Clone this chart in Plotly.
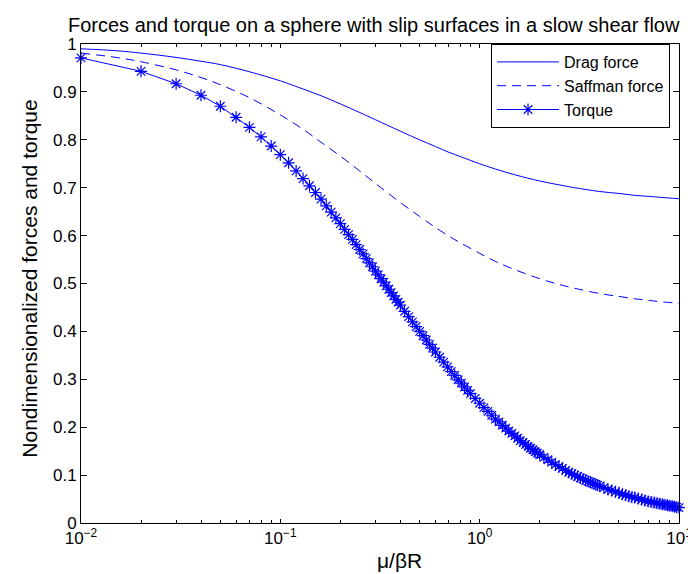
import plotly.graph_objects as go

# ---- data ----
x_line = [0.01, 0.015, 0.02, 0.03, 0.04, 0.05, 0.07, 0.1, 0.13, 0.16, 0.2, 0.25,
          0.3, 0.4, 0.5, 0.6, 0.7, 0.8, 1.0, 1.2, 1.5, 2, 2.5, 3, 4, 5, 6, 7, 8, 10]
drag = [0.990, 0.986, 0.981, 0.972, 0.964, 0.957, 0.942, 0.923, 0.906, 0.892, 0.875, 0.857,
        0.842, 0.818, 0.800, 0.786, 0.774, 0.765, 0.750, 0.739, 0.727, 0.714, 0.706, 0.700,
        0.692, 0.688, 0.684, 0.682, 0.680, 0.677]
saffman = [0.981, 0.972, 0.963, 0.946, 0.930, 0.915, 0.888, 0.852, 0.822, 0.795, 0.766, 0.735,
           0.709, 0.669, 0.640, 0.617, 0.599, 0.585, 0.563, 0.546, 0.529, 0.510, 0.498, 0.490,
           0.479, 0.473, 0.468, 0.465, 0.462, 0.459]

x_torque = [0.01, 0.02, 0.03, 0.04, 0.05, 0.06, 0.07, 0.08, 0.09, 0.10,
            0.11, 0.12, 0.13, 0.14, 0.15, 0.16, 0.17, 0.18, 0.19, 0.20,
            0.21, 0.22, 0.23, 0.24, 0.25, 0.26, 0.27, 0.28, 0.29, 0.30,
            0.31, 0.32, 0.33, 0.34, 0.35, 0.36, 0.37, 0.38, 0.39, 0.40,
            0.42, 0.44, 0.46, 0.48, 0.50, 0.52, 0.54, 0.56, 0.58, 0.60,
            0.63, 0.66, 0.69, 0.72, 0.75, 0.78, 0.81, 0.84, 0.87, 0.90,
            0.95, 1.00, 1.05, 1.10, 1.15, 1.20, 1.25, 1.30, 1.35, 1.40,
            1.45, 1.50, 1.55, 1.60, 1.65, 1.70, 1.75, 1.80, 1.85, 1.90,
            1.95, 2.0, 2.1, 2.2, 2.3, 2.4, 2.5, 2.6, 2.7, 2.8,
            2.9, 3.0, 3.1, 3.2, 3.3, 3.4, 3.5, 3.6, 3.7, 3.8,
            3.9, 4.0, 4.2, 4.4, 4.6, 4.8, 5.0, 5.2, 5.4, 5.6,
            5.8, 6.0, 6.25, 6.5, 6.75, 7.0, 7.25, 7.5, 7.75, 8.0,
            8.25, 8.5, 8.75, 9.0, 9.25, 9.5, 9.75, 10.0]
torque = [0.971, 0.943, 0.917, 0.893, 0.870, 0.847, 0.826, 0.806, 0.787, 0.769,
          0.752, 0.735, 0.719, 0.704, 0.690, 0.676, 0.662, 0.649, 0.637, 0.625,
          0.613, 0.602, 0.592, 0.581, 0.571, 0.562, 0.552, 0.543, 0.535, 0.526,
          0.518, 0.510, 0.503, 0.495, 0.488, 0.481, 0.474, 0.467, 0.461, 0.455,
          0.442, 0.431, 0.420, 0.410, 0.400, 0.391, 0.382, 0.373, 0.365, 0.357,
          0.346, 0.336, 0.326, 0.316, 0.308, 0.299, 0.292, 0.284, 0.277, 0.270,
          0.260, 0.250, 0.241, 0.233, 0.225, 0.217, 0.211, 0.204, 0.198, 0.192,
          0.187, 0.182, 0.177, 0.172, 0.168, 0.164, 0.160, 0.156, 0.153, 0.149,
          0.146, 0.143, 0.137, 0.132, 0.127, 0.122, 0.118, 0.114, 0.110, 0.106,
          0.103, 0.100, 0.097, 0.094, 0.092, 0.089, 0.087, 0.085, 0.083, 0.081,
          0.079, 0.077, 0.074, 0.070, 0.068, 0.065, 0.063, 0.060, 0.058, 0.056,
          0.054, 0.053, 0.051, 0.049, 0.047, 0.045, 0.044, 0.043, 0.041, 0.040,
          0.039, 0.038, 0.037, 0.036, 0.035, 0.034, 0.033, 0.032]

x_tickvals = [0.01, 0.1, 1, 10]
x_ticktext = ["10<sup>\u22122</sup>", "10<sup>\u22121</sup>", "10<sup>0</sup>", "10<sup>1</sup>"]
x_minor = [m * d for d in (0.01, 0.1, 1) for m in range(2, 10)]
y_tickvals = [0, 0.1, 0.2, 0.3, 0.4, 0.5, 0.6, 0.7, 0.8, 0.9, 1]

BLUE = "#0000ff"
FONT = "Liberation Sans, Arial, Helvetica, sans-serif"

fig = go.Figure()
fig.add_trace(go.Scatter(x=x_line, y=drag, mode="lines", name="Drag force",
                         line=dict(color=BLUE, width=1, shape="spline")))
fig.add_trace(go.Scatter(x=x_line, y=saffman, mode="lines", name="Saffman force",
                         line=dict(color=BLUE, width=1, dash="9px,6px", shape="spline")))
fig.add_trace(go.Scatter(x=x_torque, y=torque, mode="lines+markers", name="Torque",
                         line=dict(color=BLUE, width=1),
                         marker=dict(symbol="asterisk-open", size=10,
                                     line=dict(color=BLUE, width=1.2)),
                         cliponaxis=False))

fig.update_layout(
    width=696, height=574,
    margin=dict(l=73, r=15, t=36, b=59),
    paper_bgcolor="white", plot_bgcolor="white",
    font=dict(family=FONT, size=17, color="black"),
    showlegend=True,
    legend=dict(x=0.985, y=1.0, xanchor="right", yanchor="top",
                bgcolor="white", bordercolor="black", borderwidth=1,
                font=dict(size=16), itemwidth=62, tracegroupgap=0),
    xaxis=dict(type="log", range=[-2, 1], tickvals=x_tickvals, ticktext=x_ticktext,
               ticks="inside", ticklen=4, tickcolor="black", showline=True,
               linecolor="black", linewidth=1, mirror="ticks", showgrid=False,
               zeroline=False, tickfont=dict(size=17),
               minor=dict(tickvals=x_minor, ticks="inside", ticklen=3,
                          tickcolor="black", showgrid=False)),
    yaxis=dict(range=[0, 1], tickvals=y_tickvals, ticks="inside", ticklen=6,
               tickcolor="black", showline=True, linecolor="black", linewidth=1,
               mirror="ticks", showgrid=False, zeroline=False, tickfont=dict(size=17)),
    annotations=[
        dict(text="Forces and torque on a sphere with slip surfaces in a slow shear flow",
             xref="paper", yref="paper", x=0.49, y=1.0, yshift=6,
             xanchor="center", yanchor="bottom", showarrow=False,
             font=dict(size=20)),
        dict(text="\u03bc/\u03b2R", xref="paper", yref="paper", x=0.533, y=0,
             yshift=-37, xanchor="center", yanchor="middle", showarrow=False,
             font=dict(size=21)),
        dict(text="Nondimensionalized forces and torque", xref="paper", yref="paper",
             x=0, xshift=-51, y=0.51, xanchor="center", yanchor="middle",
             textangle=-90, showarrow=False, font=dict(size=21)),
    ],
)

fig.write_html("out.html")
